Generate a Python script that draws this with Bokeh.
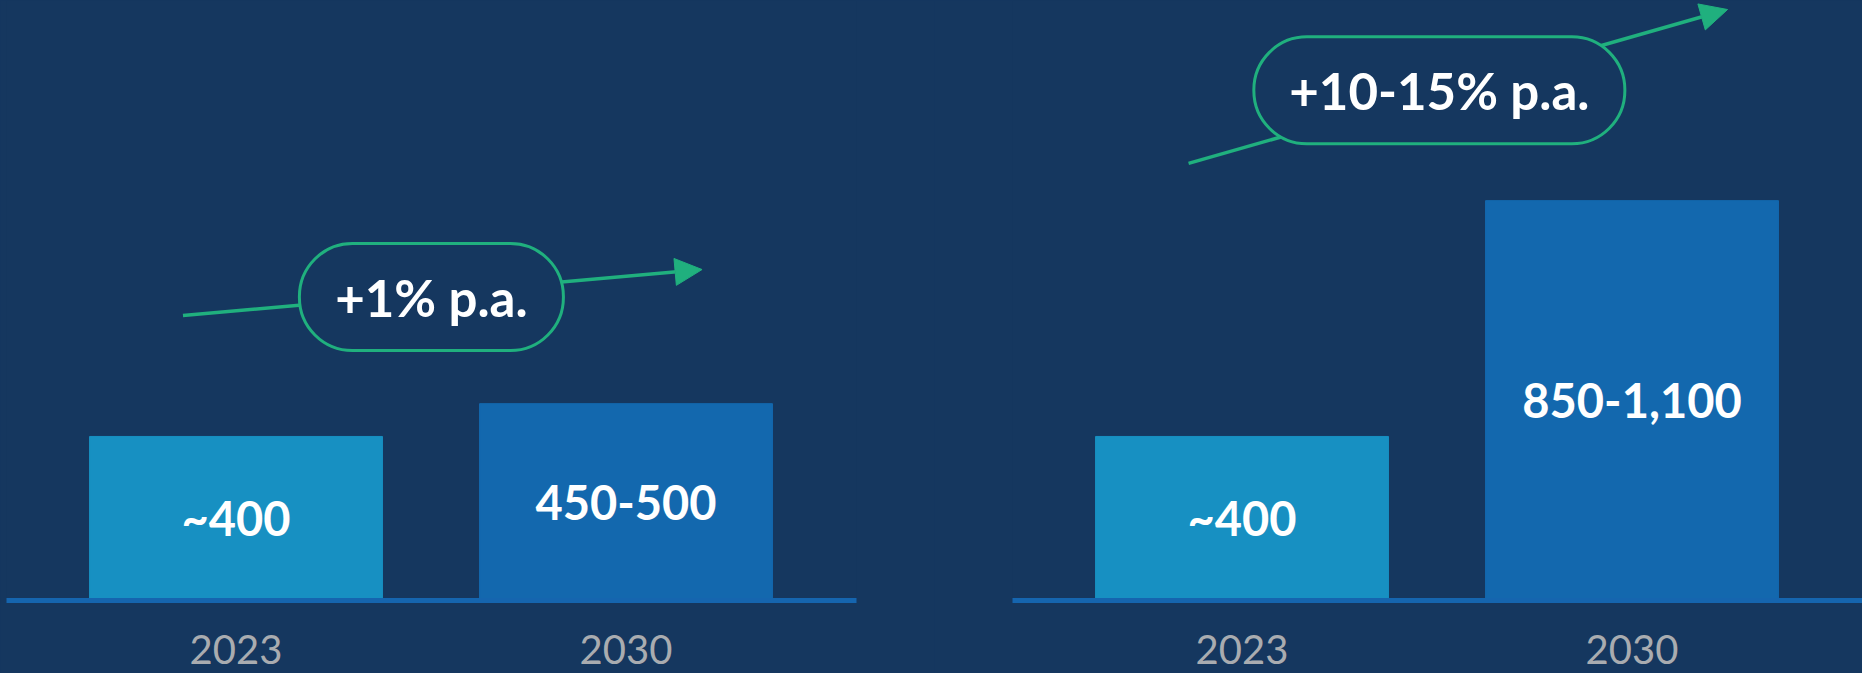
from bokeh.plotting import figure
from bokeh.layouts import row
from bokeh.models import Range1d, FixedTicker, Arrow, NormalHead, ColumnDataSource
from bokeh.core.properties import value
from bokeh.embed import file_html
from bokeh.resources import INLINE

# ---------------- data ----------------
years = ["2023", "2030"]
left_values = [400, 480]
left_labels = ["~400", "450-500"]
right_values = [400, 975]
right_labels = ["~400", "850-1,100"]
growth_labels = ["+1% p.a.", "+10-15% p.a."]

# ---------------- style ----------------
BG = "#15375F"
BAR_COLORS = ["#1790C2", "#1368AE"]
BASE = "#1565AF"
GREEN = "#20B07E"
GREY = "#A9ACB0"
FONT = "Lato"


def panel(vals, labels, growth, arrow_pts, pill_xy, pill_w, pill_h,
          border_left, border_right):
    xs = list(range(len(years)))
    p = figure(frame_width=850, frame_height=600,
               x_range=Range1d(-0.5885, 1.591), y_range=Range1d(0, 1463),
               output_backend="svg", toolbar_location=None,
               y_axis_location=None,
               min_border_left=border_left, min_border_right=border_right,
               min_border_top=0, min_border_bottom=73)
    p.background_fill_color = BG
    p.border_fill_color = BG
    p.outline_line_color = None
    p.grid.visible = False

    ax = p.xaxis[0]
    ax.ticker = FixedTicker(ticks=xs)
    ax.major_label_overrides = {i: y for i, y in enumerate(years)}
    ax.axis_line_color = BASE
    ax.axis_line_width = 5
    ax.major_tick_line_color = None
    ax.minor_tick_line_color = None
    ax.major_label_text_font = FONT
    ax.major_label_text_font_size = "40px"
    ax.major_label_text_color = GREY
    ax.major_label_standoff = 28

    src = ColumnDataSource(dict(x=xs, top=vals, color=BAR_COLORS,
                                label=labels, ly=[v / 2 for v in vals]))
    p.vbar(x="x", top="top", width=0.751, color="color", source=src)
    p.text(x="x", y="ly", text="label", source=src,
           text_font=value(FONT), text_font_style="bold",
           text_font_size="47px", text_color="white",
           text_align="center", text_baseline="middle")

    (x0, y0), (x1, y1) = arrow_pts
    p.add_layout(Arrow(x_start=x0, y_start=y0, x_end=x1, y_end=y1,
                       line_color=GREEN, line_width=3.5,
                       end=NormalHead(size=27, fill_color=GREEN,
                                      line_color=GREEN, line_width=1),
                       level="underlay"))

    px, py = pill_xy
    p.rect(x=[px], y=[py], width=pill_w, height=pill_h,
           width_units="screen", height_units="screen",
           fill_color=BG, line_color=GREEN, line_width=3,
           border_radius=int(pill_h // 2))
    p.text(x=[px], y=[py], text=[growth],
           text_font=value(FONT), text_font_style="bold",
           text_font_size="51px", text_color="white",
           text_align="center", text_baseline="middle")
    return p


left = panel(left_values, left_labels, growth_labels[0],
             ((-0.136, 695), (1.195, 807)), (0.501, 740), 264, 107,
             6, 78)
right = panel(right_values, right_labels, growth_labels[1],
              ((-0.137, 1066), (1.245, 1441)), (0.506, 1244), 371, 107,
              78, 0)

layout = row(left, right, spacing=0)

html = file_html(layout, INLINE, title="chart")
html = html.replace(
    "</head>",
    "<style>html,body{margin:0;padding:0;background:#15375F;overflow:hidden;}</style></head>",
    1)
open("out.html", "w").write(html)
